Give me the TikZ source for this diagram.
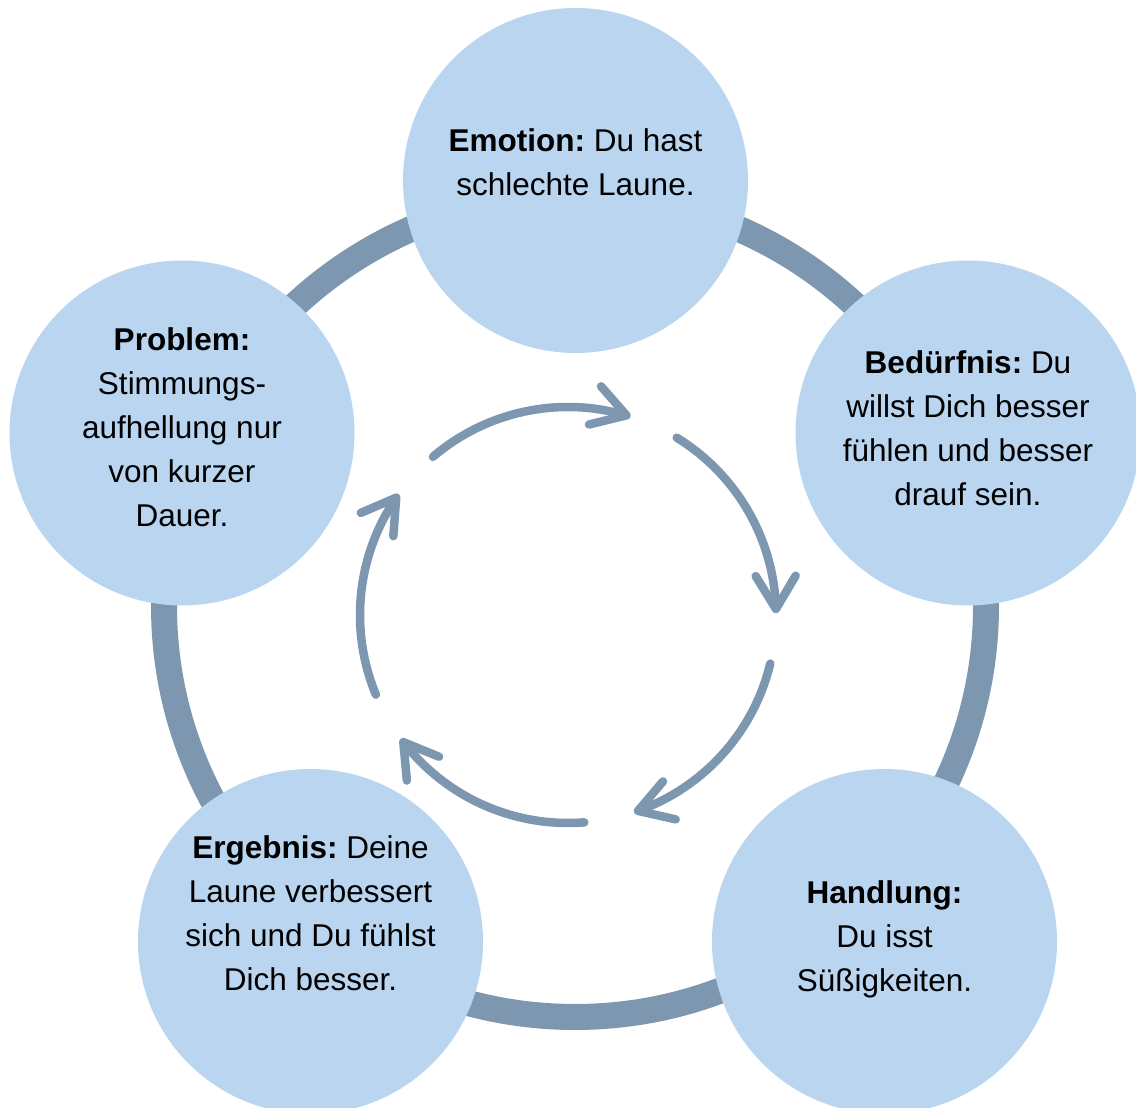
\documentclass[tikz,border=0pt]{standalone}
\usepackage{fontspec}
\setmainfont{Liberation Sans}
\usepackage{tikz}
\usetikzlibrary{arrows.meta,bending,positioning}
\definecolor{Ring}{HTML}{7C97AF}
\definecolor{Bubble}{HTML}{B9D5F0}
\definecolor{Ink}{HTML}{000000}
\frenchspacing

\begin{document}
\begin{tikzpicture}[x=1pt,y=1pt,
  bubble/.style={circle,fill=Bubble,minimum size=345pt,inner sep=0pt},
  txt/.style={font=\fontsize{31.5}{44}\selectfont,align=center,inner sep=0pt,text=Ink},
  cyc/.style={draw=Ring,line width=8.5pt,line cap=round,
    -{Straight Barb[length=33pt,width=40pt,line cap=round,line join=round]}}]
  \useasboundingbox (0,0) rectangle (1136,1108);
  % big ring behind the bubbles
  \coordinate (hub) at (575,502);
  \draw[Ring,line width=26pt] (hub) circle[radius=411];
  % five bubbles
  \node[bubble] (emo)  at (575.5,927.5) {};
  \node[bubble] (bed)  at (968,675) {};
  \node[bubble] (hand) at (884.5,166.5) {};
  \node[bubble] (erg)  at (310.5,166.5) {};
  \node[bubble] (prob) at (182,675) {};
  \node[txt] (emotxt)  at ([yshift=18]emo.center)  {\textbf{Emotion:} Du hast\\schlechte Laune.};
  \node[txt] (bedtxt)  at ([yshift=5]bed.center)   {\textbf{Bedürfnis:} Du\\willst Dich besser\\fühlen und besser\\drauf sein.};
  \node[txt] (handtxt) at ([yshift=2]hand.center)  {\textbf{Handlung:}\\Du isst\\Süßigkeiten.};
  \node[txt] (ergtxt)  at ([yshift=28]erg.center)  {\textbf{Ergebnis:} Deine\\Laune verbessert\\sich und Du fühlst\\Dich besser.};
  \node[txt] (probtxt) at ([yshift=6]prob.center)  {\textbf{Problem:}\\Stimmungs-\\aufhellung nur\\von kurzer\\Dauer.};
  % inner cycle of arrows
  \coordinate (mid) at (568,493);
  \foreach \a in {130.5,58.5,-13.5,-85.5,-157.5}
    \draw[cyc] ([shift=(\a:208)]mid) arc[start angle=\a,end angle=\a-58,radius=208];
\end{tikzpicture}
\end{document}
